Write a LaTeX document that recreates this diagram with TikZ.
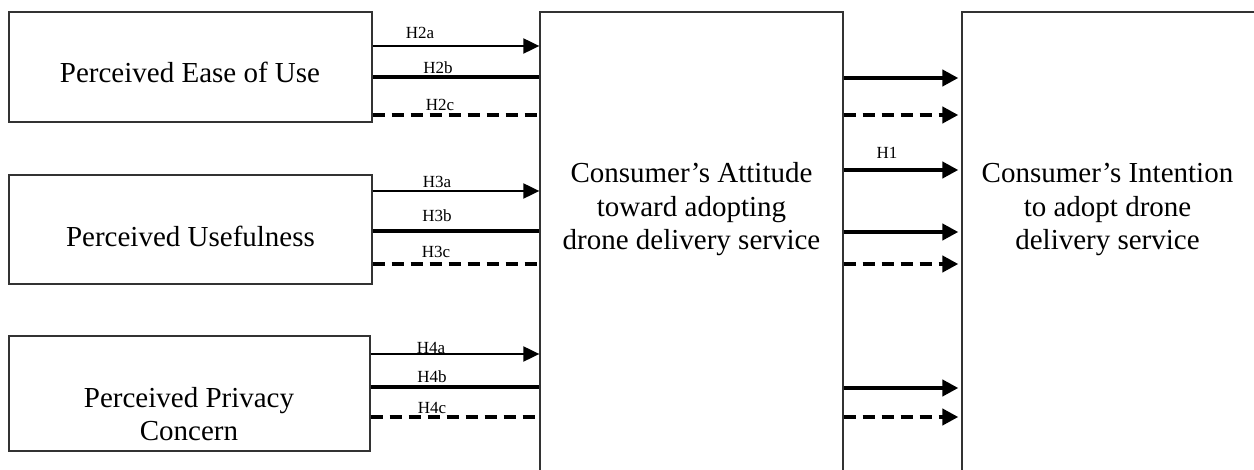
\documentclass[tikz,border=0pt]{standalone}
\usepackage{fontspec}
\setmainfont{Liberation Serif}
\usetikzlibrary{arrows.meta}
\tikzset{%
  factor/.style={draw=black!80,line width=1.3pt,inner sep=0pt,
    minimum width=#1},
  factor/.default=363pt,
  boxtext/.style={align=center,inner sep=0pt,
    font=\fontsize{29}{33.5}\selectfont},
  hyp/.style={inner sep=0pt,font=\fontsize{17}{19}\selectfont},
  thin arrow/.style={line width=2pt,-{Triangle[length=16pt,width=15pt]}},
  thick line/.style={line width=4pt},
  dash line/.style={line width=4pt,dash pattern=on 12pt off 7pt},
  right arrow/.style={line width=4pt,shorten >=3pt,
    -{Triangle[length=16pt,width=16pt]}}
}
\begin{document}
\begin{tikzpicture}[x=1pt,y=1pt]

    \clip (0,0) rectangle (1254,469);

    % the factor boxes on the left
    \node[factor, minimum height=110pt] (ease) at (190.5,402) {};
    \node[factor, minimum height=109pt] (useful) at (190.5,239.5) {};
    \node[factor=361pt, minimum height=115pt] (privacy) at (189.5,75.5) {};

    % attitude and intention (both run off the bottom)
    \node[factor=303pt, minimum height=477pt] (attitude) at (691.5,218.5) {};
    \node[factor=318pt, minimum height=477pt] (intention) at (1121,218.5) {};

    % texts
    \node[boxtext, anchor=base] (easetxt) at (190,386) {Perceived Ease of Use};
    \node[boxtext, anchor=base] (usefultxt) at (190.5,222) {Perceived Usefulness};
    \node[boxtext] (privacytxt) at (189,55) {Perceived Privacy\\Concern};
    \node[boxtext] (attitudetxt) at (691.5,259.5)
        {Consumer's Attitude\\toward adopting\\drone delivery service};
    \node[boxtext] (intentiontxt) at (1107.5,259.5)
        {Consumer's Intention\\to adopt drone\\delivery service};

    % H2
    \draw[thin arrow] (ease.east |- 0,423) -- (attitude.west |- 0,423);
    \draw[thick line] (ease.east |- 0,392) -- (attitude.west |- 0,392);
    \draw[dash line] (ease.east |- 0,354) -- (attitude.west |- 0,354);
    \node[hyp] (h2a) at (420,436) {H2a};
    \node[hyp] (h2b) at (438,401) {H2b};
    \node[hyp] (h2c) at (440,364) {H2c};

    % H3
    \draw[thin arrow] (useful.east |- 0,278) -- (attitude.west |- 0,278);
    \draw[thick line] (useful.east |- 0,238) -- (attitude.west |- 0,238);
    \draw[dash line] (useful.east |- 0,205) -- (attitude.west |- 0,205);
    \node[hyp] (h3a) at (437,287) {H3a};
    \node[hyp] (h3b) at (437,253) {H3b};
    \node[hyp] (h3c) at (436,217) {H3c};

    % H4
    \draw[thin arrow] (privacy.east |- 0,115) -- (attitude.west |- 0,115);
    \draw[thick line] (privacy.east |- 0,82) -- (attitude.west |- 0,82);
    \draw[dash line] (privacy.east |- 0,52) -- (attitude.west |- 0,52);
    \node[hyp] (h4a) at (431,121) {H4a};
    \node[hyp] (h4b) at (432,92) {H4b};
    \node[hyp] (h4c) at (432,61) {H4c};

    % attitude -> intention
    \draw[right arrow] (attitude.east |- 0,391) -- (intention.west |- 0,391);
    \draw[right arrow, dash line] (attitude.east |- 0,354) -- (intention.west |- 0,354);
    \draw[right arrow] (attitude.east |- 0,299) -- (intention.west |- 0,299);
    \draw[right arrow] (attitude.east |- 0,237) -- (intention.west |- 0,237);
    \draw[right arrow, dash line] (attitude.east |- 0,205) -- (intention.west |- 0,205);
    \draw[right arrow] (attitude.east |- 0,81) -- (intention.west |- 0,81);
    \draw[right arrow, dash line] (attitude.east |- 0,52) -- (intention.west |- 0,52);
    \node[hyp] (h1) at (887,316) {H1};

\end{tikzpicture}
\end{document}
